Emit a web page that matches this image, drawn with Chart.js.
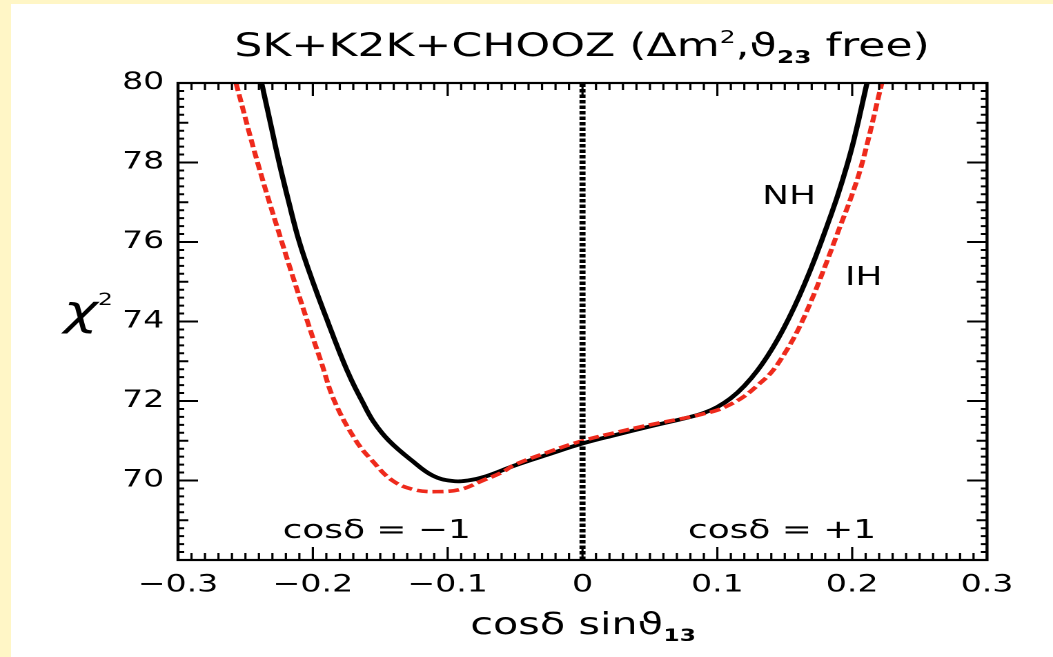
<!DOCTYPE html>
<html>
<head>
<meta charset="utf-8">
<script src="https://cdn.jsdelivr.net/npm/chart.js@4"></script>
<style>
 body{margin:0;background:#fff6c6;width:1053px;height:657px;overflow:hidden;}
 #wrap{position:absolute;left:11px;top:4px;width:1042px;height:653px;background:#fff;overflow:hidden;}
 #chi2{transform-origin:0 0;}
</style>
</head>
<body>
<div id="wrap"><canvas id="chi2" width="755" height="653"></canvas></div>
<script>
// chi^2 vs cos(delta) sin(theta13)
const nhX = [-0.238,-0.2315,-0.225,-0.2178,-0.210,-0.200,-0.189,-0.1775,-0.171,-0.1635,-0.155,-0.1435,-0.1265,-0.111,-0.097,-0.085,-0.072,-0.050,-0.025,0,0.025,0.050,0.080,0.090,0.100,0.110,0.120,0.130,0.140,0.150,0.160,0.170,0.180,0.190,0.200,0.211];
const nhY = [80,79,78,77,76,75,74,73,72.5,72,71.48,71,70.5,70.12,69.99,70.0,70.1,70.38,70.66,70.93,71.15,71.36,71.6,71.7,71.85,72.07,72.38,72.78,73.28,73.88,74.58,75.38,76.28,77.25,78.4,80];
const ihX = [-0.257,-0.241,-0.223,-0.204,-0.194,-0.184,-0.168,-0.156,-0.141,-0.125,-0.108,-0.090,-0.074,-0.060,-0.050,-0.025,0,0.025,0.050,0.080,0.090,0.100,0.110,0.120,0.130,0.140,0.150,0.160,0.170,0.180,0.190,0.200,0.208,0.222];
const ihY = [80,78,76,74,73,72,71,70.5,70.0,69.77,69.72,69.78,70.0,70.2,70.4,70.72,71.0,71.21,71.4,71.6,71.68,71.77,71.92,72.12,72.4,72.72,73.2,73.8,74.55,75.4,76.3,77.2,78.06,80];
const zeroX = [0, 0];
const zeroY = [68, 80];

const xTicks = [-0.3,-0.2,-0.1,0,0.1,0.2,0.3];
const yTicks = [70,72,74,76,78,80];
const xRange = [-0.3, 0.3];
const yRange = [68, 80];

// the original figure is stretched sideways, so the canvas is too
const stretch = 1042 / 755;
const cv = document.getElementById('chi2');
cv.style.transform = 'scaleX(' + stretch + ')';

const FONT = "'DejaVu Sans', sans-serif";

function pts(xs, ys){
  return xs.map((x, i) => ({x: x, y: ys[i]}));
}

function richText(ctx, x, y, parts){
  let w = 0;
  parts.forEach(p => {
    ctx.font = (p.style || '') + ' ' + p.size + 'px ' + FONT;
    p.w = ctx.measureText(p.t).width;
    w += p.w;
  });
  let cx = x - w / 2;
  parts.forEach(p => {
    ctx.font = (p.style || '') + ' ' + p.size + 'px ' + FONT;
    ctx.fillText(p.t, cx, y + (p.dy || 0));
    cx += p.w;
  });
}

const frame = {
  id: 'frame',
  afterDatasetsDraw(chart){
    const ctx = chart.ctx;
    const a = chart.chartArea;
    const xs = chart.scales.x, ys = chart.scales.y;
    ctx.save();
    ctx.strokeStyle = '#000';
    ctx.lineWidth = 1.6;
    ctx.beginPath();
    // x ticks, bottom and top, pointing in
    for (let i = -30; i <= 30; i++) {
      const px = xs.getPixelForValue(i / 100);
      const len = (i % 10 === 0) ? 13 : 7;
      ctx.moveTo(px, a.bottom); ctx.lineTo(px, a.bottom - len);
      ctx.moveTo(px, a.top); ctx.lineTo(px, a.top + len);
    }
    ctx.stroke();
    ctx.lineWidth = 2;
    ctx.beginPath();
    for (let i = 340; i <= 400; i++) {
      const v = i / 5;
      const py = ys.getPixelForValue(v);
      let len = 4.5;
      if (i % 10 === 0) len = 14.5;
      else if (i % 5 === 0) len = 7.5;
      ctx.moveTo(a.left, py); ctx.lineTo(a.left + len, py);
      ctx.moveTo(a.right, py); ctx.lineTo(a.right - len, py);
    }
    ctx.stroke();
    ctx.lineWidth = 2.2;
    ctx.strokeRect(a.left, a.top, a.right - a.left, a.bottom - a.top);
    ctx.restore();
  },
  afterDraw(chart){
    const ctx = chart.ctx;
    ctx.save();
    // the source image cuts the last x label at its edge
    ctx.fillStyle = '#fff';
    ctx.fillRect((1013 - 11) / stretch, 565, 60, 40);
    ctx.fillStyle = '#000';
    ctx.textBaseline = 'alphabetic';
    richText(ctx, 413.8, 52, [
      {t: 'SK+K2K+CHOOZ (Δm', size: 32},
      {t: '2', size: 18, dy: -13},
      {t: ',', size: 32},
      {t: 'ϑ', size: 32},
      {t: '23', size: 18, dy: 7, style: 'bold'},
      {t: ' free)', size: 32}
    ]);
    richText(ctx, 414.5, 630, [
      {t: 'cosδ sinϑ', size: 30},
      {t: '13', size: 17, dy: 7, style: 'bold'}
    ]);
    richText(ctx, 56, 321, [
      {t: 'χ', size: 42, style: 'italic'},
      {t: '2', size: 17, dy: -20}
    ]);
    richText(ctx, 265, 534, [{t: 'cosδ = −1', size: 26}]);
    richText(ctx, 558.7, 534, [{t: 'cosδ = +1', size: 26}]);
    richText(ctx, 563.8, 200, [{t: 'NH', size: 26}]);
    richText(ctx, 617.8, 281, [{t: 'IH', size: 26}]);
    ctx.restore();
  }
};

Chart.defaults.font.family = FONT;
Chart.defaults.color = '#000';

new Chart(cv, {
  type: 'scatter',
  data: {
    datasets: [{
      label: 'cosδ = 0',
      data: pts(zeroX, zeroY),
      showLine: true,
      borderColor: '#000',
      borderWidth: 4.4,
      borderDash: [3.5, 2],
      pointRadius: 0
    },
    {
      label: 'IH',
      data: pts(ihX, ihY),
      showLine: true,
      borderColor: '#ee2a1c',
      borderWidth: 3.6,
      borderDash: [8, 3.5],
      tension: 0.4,
      pointRadius: 0
    },
    {
      label: 'NH',
      data: pts(nhX, nhY),
      showLine: true,
      borderColor: '#000',
      borderWidth: 3.8,
      tension: 0.4,
      pointRadius: 0
    }]
  },
  options: {
    responsive: false,
    maintainAspectRatio: false,
    devicePixelRatio: 2,
    animation: false,
    layout: {
      padding: {left: 0, top: 79, right: 755 - 976 / stretch, bottom: 0}
    },
    plugins: {
      legend: {display: false},
      tooltip: {enabled: false},
      title: {display: false}
    },
    scales: {
      x: {
        type: 'linear',
        min: xRange[0],
        max: xRange[1],
        afterBuildTicks: s => { s.ticks = xTicks.map(v => ({value: v})); },
        afterFit: s => { s.height = 97; },
        grid: {display: false, drawTicks: false},
        border: {display: false},
        ticks: {
          padding: 11,
          maxRotation: 0,
          autoSkip: false,
          font: {size: 24},
          callback: v => v === 0 ? '0' : (v < 0 ? '−' + Math.abs(v).toFixed(1) : v.toFixed(1))
        }
      },
      y: {
        type: 'linear',
        min: yRange[0],
        max: yRange[1],
        afterBuildTicks: s => { s.ticks = yTicks.map(v => ({value: v})); },
        afterFit: s => { s.width = 167 / stretch; },
        grid: {display: false, drawTicks: false},
        border: {display: false},
        ticks: {
          padding: 10,
          autoSkip: false,
          font: {size: 24},
          callback: v => String(v)
        }
      }
    }
  },
  plugins: [frame]
});
</script>
</body>
</html>
